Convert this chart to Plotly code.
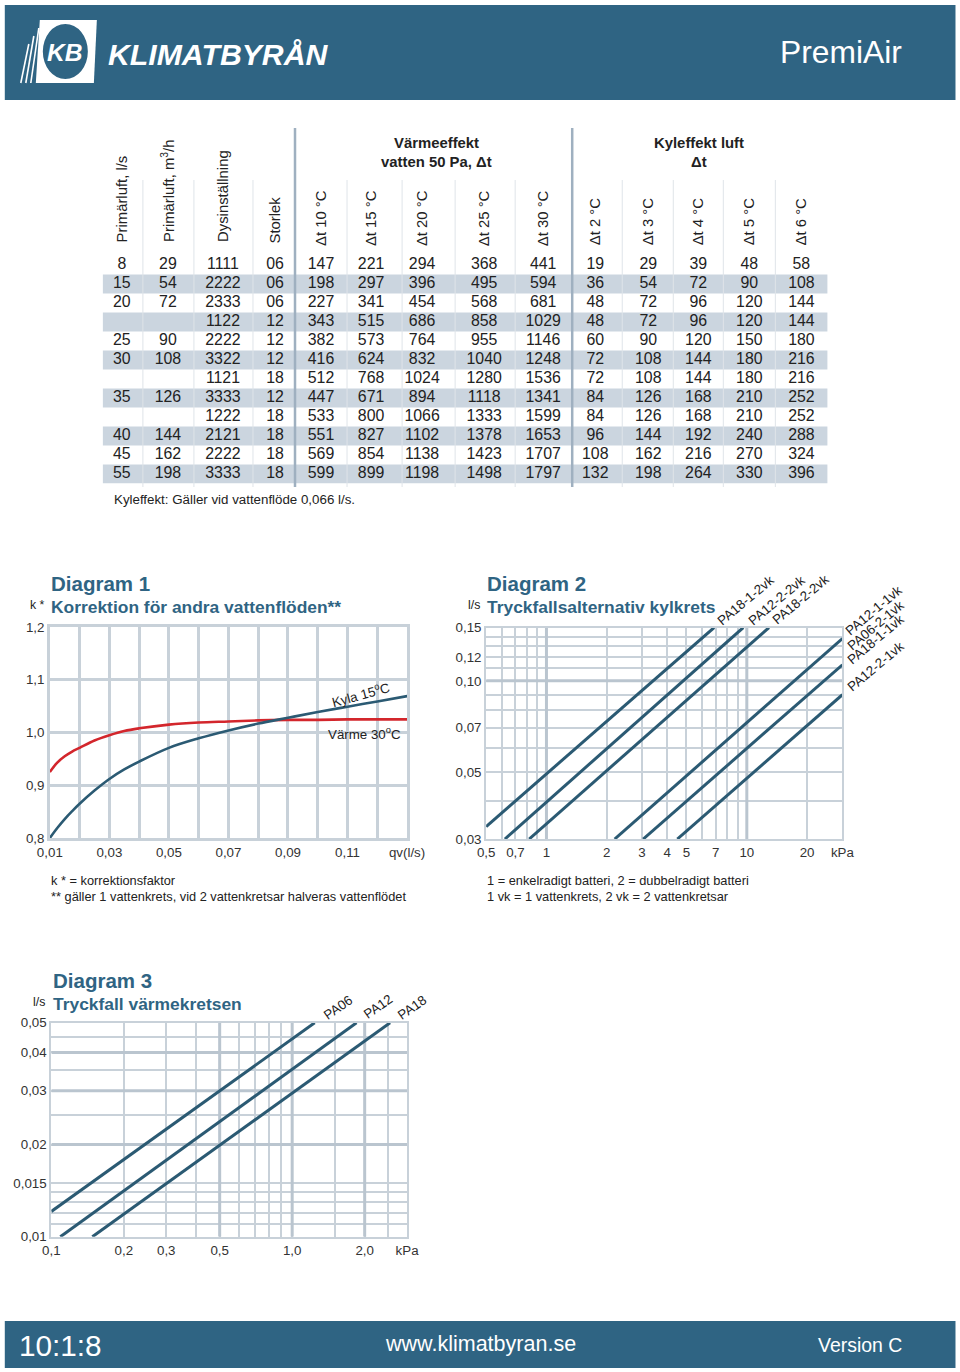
import math
import plotly.graph_objects as go

# The photographed page maps css pixels to picture pixels as
#   pic_x = 13.2 + 0.967 * css_x ,  pic_y = 7.0 + 0.989 * css_y
# so reference picture coordinates are converted back to css/paper here.
W, H = 960, 1372
SX, OX, SY, OY = 0.967, 13.2, 0.989, 7.0
FS = 1.025
def X(px): return ((px - OX) / SX) / W
def Y(py): return 1 - ((py - OY) / SY) / H

FONT = "Liberation Sans, Arial, Helvetica, sans-serif"
BAR = "#2f6483"
TITLE = "#2f6483"
LINE = "#2b5a73"
RED = "#d3262c"
GRID = "#c8d1d9"
GRID_THICK = "#bac5cf"
SHADE = "#cbd5df"
TXT = "#222222"

# ---------------- table data ----------------
primarluft_ls = ["8", "15", "20", "", "25", "30", "", "35", "", "40", "45", "55"]
primarluft_m3h = ["29", "54", "72", "", "90", "108", "", "126", "", "144", "162", "198"]
dysinstallning = ["1111", "2222", "2333", "1122", "2222", "3322", "1121", "3333", "1222", "2121", "2222", "3333"]
storlek = ["06", "06", "06", "12", "12", "12", "18", "12", "18", "18", "18", "18"]
varme_dt10 = [147, 198, 227, 343, 382, 416, 512, 447, 533, 551, 569, 599]
varme_dt15 = [221, 297, 341, 515, 573, 624, 768, 671, 800, 827, 854, 899]
varme_dt20 = [294, 396, 454, 686, 764, 832, 1024, 894, 1066, 1102, 1138, 1198]
varme_dt25 = [368, 495, 568, 858, 955, 1040, 1280, 1118, 1333, 1378, 1423, 1498]
varme_dt30 = [441, 594, 681, 1029, 1146, 1248, 1536, 1341, 1599, 1653, 1707, 1797]
kyla_dt2 = [19, 36, 48, 48, 60, 72, 72, 84, 84, 96, 108, 132]
kyla_dt3 = [29, 54, 72, 72, 90, 108, 108, 126, 126, 144, 162, 198]
kyla_dt4 = [39, 72, 96, 96, 120, 144, 144, 168, 168, 192, 216, 264]
kyla_dt5 = [48, 90, 120, 120, 150, 180, 180, 210, 210, 240, 270, 330]
kyla_dt6 = [58, 108, 144, 144, 180, 216, 216, 252, 252, 288, 324, 396]

table_headers = ["Primärluft, l/s", "Primärluft, m<sup>3</sup>/h", "Dysinställning", "Storlek",
                 "Δt 10 °C", "Δt 15 °C", "Δt 20 °C", "Δt 25 °C", "Δt 30 °C",
                 "Δt 2 °C", "Δt 3 °C", "Δt 4 °C", "Δt 5 °C", "Δt 6 °C"]

# ---------------- diagram 1 data ----------------
d1_qv = [0.01, 0.0125, 0.015, 0.0175, 0.02, 0.025, 0.03, 0.035, 0.04, 0.05, 0.06, 0.07,
         0.08, 0.09, 0.10, 0.11, 0.12, 0.13]
d1_varme = [0.925, 0.943, 0.955, 0.964, 0.971, 0.985, 0.995, 1.003, 1.008, 1.015, 1.019, 1.021,
            1.023, 1.024, 1.024, 1.025, 1.025, 1.025]
d1_kyla = [0.800, 0.819, 0.836, 0.851, 0.865, 0.890, 0.912, 0.930, 0.945, 0.971, 0.989, 1.004,
           1.017, 1.028, 1.039, 1.049, 1.059, 1.069]
d1_xtick_vals = [0.01, 0.02, 0.03, 0.04, 0.05, 0.06, 0.07, 0.08, 0.09, 0.10, 0.11, 0.12, 0.13]
d1_xtick_text = ["0,01", "", "0,03", "", "0,05", "", "0,07", "", "0,09", "", "0,11", "", "qv(l/s)"]
d1_ytick_vals = [0.8, 0.9, 1.0, 1.1, 1.2]
d1_ytick_text = ["0,8", "0,9", "1,0", "1,1", "1,2"]

# ---------------- diagram 2 data (kPa, l/s) ----------------
d2_names = ["PA18-1-2vk", "PA12-2-2vk", "PA18-2-2vk", "PA12-1-1vk", "PA06-2-1vk / PA18-1-1vk", "PA12-2-1vk"]
d2_dp = [[0.5, 6.87], [0.62, 9.6], [0.82, 12.9], [2.19, 30], [3.04, 30], [4.5, 30]]
d2_q = [[0.033, 0.15], [0.03, 0.15], [0.03, 0.15], [0.03, 0.138], [0.03, 0.113], [0.03, 0.090]]
d2_labels = ["PA18-1-2vk", "PA12-2-2vk", "PA18-2-2vk", "PA12-1-1vk", "PA06-2-1vk", "PA18-1-1vk", "PA12-2-1vk"]
d2_xtick_vals = [0.5, 0.6, 0.7, 0.8, 0.9, 1, 2, 3, 4, 5, 6, 7, 8, 9, 10, 20, 30]
d2_xtick_text = ["0,5", "", "0,7", "", "", "1", "2", "3", "4", "5", "", "7", "", "", "10", "20", "kPa"]
d2_ytick_vals = [0.03, 0.04, 0.05, 0.06, 0.07, 0.08, 0.09, 0.10, 0.11, 0.12, 0.13, 0.14, 0.15]
d2_ytick_text = ["0,03", "", "0,05", "", "0,07", "", "", "0,10", "", "0,12", "", "", "0,15"]
d2_major_x = [1, 10]
d2_major_y = [0.10]
d2_xrange = [0.5, 30]
d2_yrange = [0.03, 0.15]

# ---------------- diagram 3 data (kPa, l/s) ----------------
d3_names = ["PA06", "PA12", "PA18"]
d3_dp = [[0.1, 1.24], [0.109, 1.85], [0.148, 2.55]]
d3_q = [[0.0121, 0.05], [0.01, 0.05], [0.01, 0.05]]
d3_xtick_vals = [0.1, 0.2, 0.3, 0.4, 0.5, 0.6, 0.7, 0.8, 0.9, 1.0, 1.5, 2.0, 2.5, 3.0]
d3_xtick_text = ["0,1", "0,2", "0,3", "", "0,5", "", "", "", "", "1,0", "", "2,0", "", "kPa"]
d3_ytick_vals = [0.01, 0.011, 0.012, 0.013, 0.014, 0.015, 0.02, 0.025, 0.03, 0.035, 0.04, 0.045, 0.05]
d3_ytick_text = ["0,01", "", "", "", "", "0,015", "0,02", "", "0,03", "", "0,04", "", "0,05"]
d3_major_x = [0.5, 1.0, 2.0]
d3_major_y = [0.02, 0.03, 0.04]
d3_xrange = [0.1, 3.0]
d3_yrange = [0.01, 0.05]

fig = go.Figure()

# ---------------- table ----------------
table_columns = [primarluft_ls, primarluft_m3h, dysinstallning, storlek,
                 varme_dt10, varme_dt15, varme_dt20, varme_dt25, varme_dt30,
                 kyla_dt2, kyla_dt3, kyla_dt4, kyla_dt5, kyla_dt6]
col_x = [122, 168, 223, 275, 321, 371, 422, 484, 543, 595, 648, 698, 749, 801]
rows = list(range(len(dysinstallning)))
for cx, col in zip(col_x, table_columns):
    ys = [r for r, v in zip(rows, col) if str(v) != ""]
    ts = [str(v) for v in col if str(v) != ""]
    fig.add_trace(go.Scatter(
        x=[cx] * len(ys), y=ys, text=ts, mode="text",
        textfont=dict(family=FONT, size=15.5 * FS, color=TXT),
        xaxis="x", yaxis="y", showlegend=False, hoverinfo="skip"))

shapes = []
for i in rows:
    if i % 2 == 1:
        shapes.append(dict(type="rect", xref="x", yref="y", x0=103, x1=827, y0=i - 0.5, y1=i + 0.5,
                           fillcolor=SHADE, line=dict(width=0), layer="below"))
for lx in [143, 194, 253, 347, 402, 455, 515, 622, 673, 723, 775]:
    shapes.append(dict(type="line", xref="paper", yref="paper", x0=X(lx), x1=X(lx), y0=Y(180), y1=Y(487),
                       line=dict(color="#dfe4e9", width=1)))
for lx in [295, 572]:
    shapes.append(dict(type="line", xref="paper", yref="paper", x0=X(lx), x1=X(lx), y0=Y(128), y1=Y(487),
                       line=dict(color="#9fb0c0", width=2.5)))

annotations = []
def ann(text, px, py, size, color=TXT, xanchor="left", yanchor="middle", angle=0, family=FONT):
    annotations.append(dict(text=text, x=X(px), y=Y(py), xref="paper", yref="paper",
                            xanchor=xanchor, yanchor=yanchor, textangle=angle, showarrow=False,
                            font=dict(family=family, size=size * FS, color=color)))

head_bottom = [244, 244, 244, 245, 248, 248, 248, 248, 248, 247, 247, 247, 247, 247]
for cx, hb, txt in zip(col_x, head_bottom, table_headers):
    ann(txt, cx, hb, 14.5, xanchor="center", yanchor="bottom", angle=-90)
ann("<b>Värmeeffekt</b>", 436, 143, 14.5, xanchor="center")
ann("<b>vatten 50 Pa, Δt</b>", 436, 162, 14.5, xanchor="center")
ann("<b>Kyleffekt luft</b>", 699, 143, 14.5, xanchor="center")
ann("<b>Δt</b>", 699, 162, 14.5, xanchor="center")
ann("Kyleffekt: Gäller vid vattenflöde 0,066 l/s.", 112, 499, 13)

# ---------------- diagram 1 ----------------
fig.add_trace(go.Scatter(x=d1_qv, y=d1_varme, mode="lines",
                         line=dict(color=RED, width=2.6, shape="spline", smoothing=1.0),
                         xaxis="x2", yaxis="y2", showlegend=False, name="Värme 30°C"))
fig.add_trace(go.Scatter(x=d1_qv, y=d1_kyla, mode="lines",
                         line=dict(color=LINE, width=2.6, shape="spline", smoothing=1.0),
                         xaxis="x2", yaxis="y2", showlegend=False, name="Kyla 15°C"))

# ---------------- diagrams 2 and 3 ----------------
def major_grid(xs, ys, xrange_, yrange_, xa, ya):
    gx, gy = [], []
    for v in xs:
        gx += [v, v, None]
        gy += [yrange_[0], yrange_[1], None]
    for v in ys:
        gx += [xrange_[0], xrange_[1], None]
        gy += [v, v, None]
    fig.add_trace(go.Scatter(x=gx, y=gy, mode="lines", line=dict(color=GRID_THICK, width=3),
                             xaxis=xa, yaxis=ya, showlegend=False, hoverinfo="skip"))

major_grid(d2_major_x, d2_major_y, d2_xrange, d2_yrange, "x3", "y3")
for nm, xs, ys in zip(d2_names, d2_dp, d2_q):
    fig.add_trace(go.Scatter(x=xs, y=ys, mode="lines", line=dict(color=LINE, width=3),
                             xaxis="x3", yaxis="y3", showlegend=False, name=nm))

major_grid(d3_major_x, d3_major_y, d3_xrange, d3_yrange, "x4", "y4")
for nm, xs, ys in zip(d3_names, d3_dp, d3_q):
    fig.add_trace(go.Scatter(x=xs, y=ys, mode="lines", line=dict(color=LINE, width=3),
                             xaxis="x4", yaxis="y4", showlegend=False, name=nm))

tickfont = dict(family=FONT, size=13 * FS, color="#333333")
def axis(domain, anchor, vals, text, rng, gw, lw, typ="linear"):
    return dict(domain=domain, anchor=anchor, type=typ, range=rng, tickmode="array", tickvals=vals,
                ticktext=text, showgrid=True, gridcolor=GRID, gridwidth=gw, showline=True, mirror=True,
                linecolor=GRID, linewidth=lw, zeroline=False, ticks="",
                tickfont=tickfont, fixedrange=True)

layout_axes = dict(
    xaxis=dict(domain=[0, 1], range=[OX, OX + SX * W], visible=False, fixedrange=True, anchor="y"),
    yaxis=dict(domain=[Y(483.5), Y(255.5)], range=[11.5, -0.5], visible=False, fixedrange=True, anchor="x"),
    xaxis2=axis([X(50), X(407)], "y2", d1_xtick_vals, d1_xtick_text, [0.01, 0.13], 2.5, 2.5),
    yaxis2=axis([Y(838), Y(627)], "x2", d1_ytick_vals, d1_ytick_text, [0.8, 1.2], 2.5, 2.5),
    xaxis3=axis([X(486), X(842)], "y3", d2_xtick_vals, d2_xtick_text,
                [math.log10(d2_xrange[0]), math.log10(d2_xrange[1])], 1.5, 2, "log"),
    yaxis3=axis([Y(839), Y(627.5)], "x3", d2_ytick_vals, d2_ytick_text,
                [math.log10(d2_yrange[0]), math.log10(d2_yrange[1])], 1.5, 2, "log"),
    xaxis4=axis([X(51.5), X(407)], "y4", d3_xtick_vals, d3_xtick_text,
                [math.log10(d3_xrange[0]), math.log10(d3_xrange[1])], 1.5, 2, "log"),
    yaxis4=axis([Y(1236.7), Y(1022.7)], "x4", d3_ytick_vals, d3_ytick_text,
                [math.log10(d3_yrange[0]), math.log10(d3_yrange[1])], 1.5, 2, "log"),
)

# diagram titles & labels
ann("<b>Diagram 1</b>", 49, 583, 20, color=TITLE)
ann("<b>Korrektion för andra vattenflöden**</b>", 49, 607, 17, color=TITLE)
ann("k *", 28, 605, 12)
ann("Kyla 15<sup>o</sup>C", 361, 694, 13, xanchor="center", angle=-15)
ann("Värme 30<sup>o</sup>C", 364, 733, 13, xanchor="center")
ann("k * = korrektionsfaktor", 49, 880, 12.5)
ann("** gäller 1 vattenkrets, vid 2 vattenkretsar halveras vattenflödet", 49, 896, 12.5)

ann("<b>Diagram 2</b>", 485, 583, 20, color=TITLE)
ann("<b>Tryckfallsalternativ kylkrets</b>", 485, 607, 17, color=TITLE)
ann("l/s", 466, 605, 12)
d2_label_pos = [(745, 600), (776, 600), (800, 599), (873, 610), (875, 625), (875, 639), (875, 666)]
for lab, (lx, ly) in zip(d2_labels, d2_label_pos):
    ann(lab, lx, ly, 13, xanchor="center", angle=-40)
ann("1 = enkelradigt batteri, 2 = dubbelradigt batteri", 485, 880, 12.5)
ann("1 vk = 1 vattenkrets, 2 vk = 2 vattenkretsar", 485, 896, 12.5)

ann("<b>Diagram 3</b>", 51, 980, 20, color=TITLE)
ann("<b>Tryckfall värmekretsen</b>", 51, 1004, 17, color=TITLE)
ann("l/s", 31, 1002, 12)
d3_label_pos = [(338, 1007), (378, 1006), (412, 1007)]
for lab, (lx, ly) in zip(d3_names, d3_label_pos):
    ann(lab, lx, ly, 13, xanchor="center", angle=-35)

# ---------------- header / footer ----------------
shapes.append(dict(type="rect", xref="paper", yref="paper", x0=X(5), x1=X(955), y0=Y(100), y1=Y(5),
                   fillcolor=BAR, line=dict(width=0), layer="above"))
shapes.append(dict(type="rect", xref="paper", yref="paper", x0=X(5), x1=X(955), y0=Y(1368), y1=Y(1321),
                   fillcolor=BAR, line=dict(width=0), layer="above"))
def path(pts):
    return "M " + " L ".join(f"{X(a):.5f},{Y(b):.5f}" for a, b in pts) + " Z"
shapes.append(dict(type="path", xref="paper", yref="paper", path=path([(40, 20), (97, 20), (94, 83), (36, 83)]),
                   fillcolor="white", line=dict(width=0), layer="above"))
for (ax0, ay0, ax1, ay1) in [(21, 83, 29, 44), (26, 83, 34, 36), (31, 83, 39, 28)]:
    shapes.append(dict(type="line", xref="paper", yref="paper", x0=X(ax0), y0=Y(ay0), x1=X(ax1), y1=Y(ay1),
                       line=dict(color="white", width=1.6), layer="above"))
shapes.append(dict(type="circle", xref="paper", yref="paper", x0=X(43), x1=X(88), y0=Y(79), y1=Y(24),
                   fillcolor=BAR, line=dict(width=0), layer="above"))
ann("<b><i>KB</i></b>", 65, 52, 24, color="white", xanchor="center")
ann("<b><i>KLIMATBYRÅN</i></b>", 106, 54, 29.5, color="white")
ann("PremiAir", 904, 52, 31, color="white", xanchor="right")
ann("10:1:8", 17, 1345, 29, color="white")
ann("www.klimatbyran.se", 480, 1344, 21, color="white", xanchor="center")
ann("Version C", 904, 1345, 19, color="white", xanchor="right")

fig.update_layout(
    width=W, height=H, margin=dict(l=0, r=0, t=0, b=0, pad=0),
    paper_bgcolor="white", plot_bgcolor="white", showlegend=False,
    shapes=shapes, annotations=annotations, font=dict(family=FONT, color=TXT),
    **layout_axes)

fig.write_html("out.html", config={"displayModeBar": False},
               post_script="document.body.style.margin='0';document.body.style.overflow='hidden';")
